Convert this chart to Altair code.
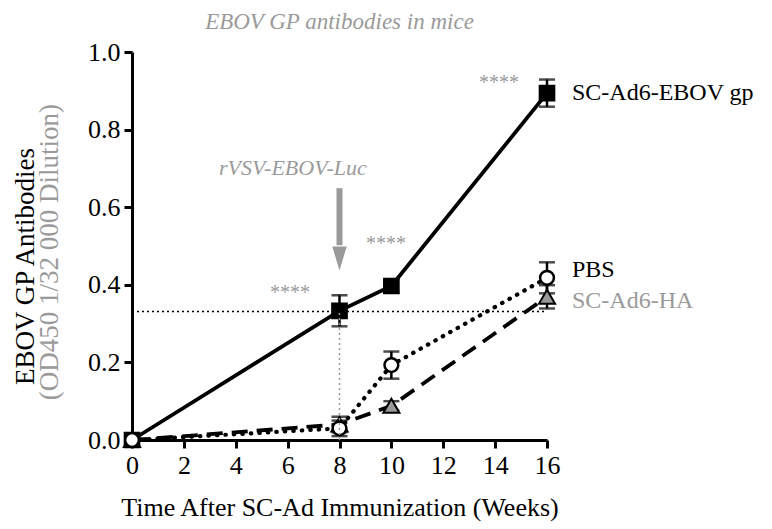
import altair as alt
import pandas as pd

FONT = "Liberation Serif"
GRAY = "#9a9a9a"

weeks = [0, 8, 10, 16]
groups = ["SC-Ad6-EBOV gp", "PBS", "SC-Ad6-HA"]
ebov = [0.0, 0.333, 0.397, 0.894]
ebov_err = [0.0, 0.04, 0.017, 0.035]
pbs = [0.0, 0.03, 0.193, 0.418]
pbs_err = [0.0, 0.02, 0.035, 0.04]
ha = [0.0, 0.04, 0.088, 0.369]
ha_err = [0.0, 0.02, 0.012, 0.03]

x_ticks = [0, 2, 4, 6, 8, 10, 12, 14, 16]
y_ticks = [0.0, 0.2, 0.4, 0.6, 0.8, 1.0]

threshold = 0.331
challenge_week = 8
arrow_top, arrow_head_start, arrow_tip = 0.649, 0.497, 0.438
arrow_label = "rVSV-EBOV-Luc"
arrow_label_x, arrow_label_y = 6.2, 0.70

star_text = "****"
star_x = [6.09, 9.79, 14.15]
star_y = [0.379, 0.505, 0.92]

label_y = [0.894, 0.438, 0.358]
label_colors = ["black", "black", GRAY]

title_text = "EBOV GP antibodies in mice"
x_title = "Time After SC-Ad Immunization (Weeks)"
y_title = "EBOV GP Antibodies"
y_subtitle = "(OD450 1/32 000 Dilution)"

rows = []
for g, vals, errs in zip(groups, [ebov, pbs, ha], [ebov_err, pbs_err, ha_err]):
    for w, v, e in zip(weeks, vals, errs):
        rows.append({"group": g, "week": w, "value": v, "lo": v - e, "hi": v + e})
df = pd.DataFrame(rows)

xscale = alt.Scale(domain=[0, 16], nice=False, zero=False)
yscale = alt.Scale(domain=[0, 1], nice=False, zero=False)
xaxis = alt.Axis(values=x_ticks, title=x_title, format="d", labelFlush=False)
yaxis = alt.Axis(values=y_ticks, title=y_title, format=".1f", labelFlush=False,
                 titleX=-107, titleY=214, titleAngle=270, titleAlign="center",
                 titleBaseline="middle")


def X(field="week"):
    return alt.X(f"{field}:Q", scale=xscale, axis=xaxis)


def Y(field="value"):
    return alt.Y(f"{field}:Q", scale=yscale, axis=yaxis)


hline_df = pd.DataFrame({"week": [0], "week2": [16], "value": [threshold]})
base = alt.Chart(hline_df).mark_rule(
    color="black", strokeWidth=1.5, strokeDash=[2, 3]
).encode(x=X(), x2="week2:Q", y=Y())

line_style = {
    "SC-Ad6-EBOV gp": dict(strokeWidth=3.8),
    "PBS": dict(strokeWidth=4.2, strokeDash=[0.5, 8], strokeCap="round"),
    "SC-Ad6-HA": dict(strokeWidth=3.8, strokeDash=[16, 9]),
}
point_style = {
    "SC-Ad6-EBOV gp": dict(shape="square", fill="black", stroke="black", strokeWidth=1.5, size=230),
    "PBS": dict(shape="circle", fill="white", stroke="black", strokeWidth=2.5, size=190),
    "SC-Ad6-HA": dict(shape="triangle-up", fill="#999999", stroke="black", strokeWidth=2, size=260),
}

lines = []
bars = []
for g in ["SC-Ad6-HA", "PBS", "SC-Ad6-EBOV gp"]:
    sub = df[df.group == g]
    lines.append(alt.Chart(sub).mark_line(color="black", **line_style[g]).encode(x=X(), y=Y()))
for g in groups:
    sub = df[(df.group == g) & (df.week > 0)]
    bars.append(alt.Chart(sub).mark_rule(color="black", strokeWidth=2.5).encode(x=X(), y=Y("lo"), y2="hi:Q"))
    for f in ["lo", "hi"]:
        bars.append(alt.Chart(sub).mark_tick(color="black", orient="horizontal", size=16, thickness=2.5).encode(x=X(), y=Y(f)))

points = []
for g in ["SC-Ad6-EBOV gp", "SC-Ad6-HA", "PBS"]:
    sub = df[df.group == g]
    points.append(alt.Chart(sub).mark_point(filled=False, opacity=1, fillOpacity=1, **point_style[g]).encode(x=X(), y=Y()))

vline_df = pd.DataFrame({"week": [challenge_week], "value": [0.0], "value2": [threshold]})
vline = alt.Chart(vline_df).mark_rule(color=GRAY, strokeWidth=1.5, strokeDash=[2, 3]).encode(
    x=X(), y=Y(), y2="value2:Q")

shaft_df = pd.DataFrame({"week": [challenge_week], "value": [arrow_top], "value2": [arrow_head_start + 0.005]})
shaft = alt.Chart(shaft_df).mark_rule(color=GRAY, strokeWidth=6).encode(x=X(), y=Y(), y2="value2:Q")
head_df = pd.DataFrame({"week": [challenge_week], "value": [(arrow_head_start + arrow_tip) / 2]})
head = alt.Chart(head_df).mark_point(
    shape="M-0.6,-1L0.6,-1L0,1Z", size=576, filled=True, fill=GRAY, opacity=1
).encode(x=X(), y=Y())

arrow_text_df = pd.DataFrame({"week": [arrow_label_x], "value": [arrow_label_y], "t": [arrow_label]})
arrow_text = alt.Chart(arrow_text_df).mark_text(
    font=FONT, fontSize=22, fontStyle="italic", color=GRAY, align="center", baseline="middle"
).encode(x=X(), y=Y(), text="t:N")

stars_df = pd.DataFrame({"week": star_x, "value": star_y, "t": [star_text] * 3})
stars = alt.Chart(stars_df).mark_text(
    font=FONT, fontSize=20, color=GRAY, align="center", baseline="middle"
).encode(x=X(), y=Y(), text="t:N")

labels = []
for g, ly, c in zip(groups, label_y, label_colors):
    ldf = pd.DataFrame({"week": [16], "value": [ly], "t": [g]})
    labels.append(alt.Chart(ldf).mark_text(
        font=FONT, fontSize=24, color=c, align="left", baseline="middle", dx=25
    ).encode(x=X(), y=Y(), text="t:N"))

sub_df = pd.DataFrame({"t": [y_subtitle]})
subtitle = alt.Chart(sub_df).mark_text(
    font=FONT, fontSize=27, color=GRAY, angle=270, align="center", baseline="middle"
).encode(x=alt.value(-82), y=alt.value(200), text="t:N")

chart = alt.layer(
    base, *lines, *bars, *points, vline, shaft, head, arrow_text, stars, *labels, subtitle
).properties(
    width=415, height=388,
    autosize=alt.AutoSizeParams(type="none"),
    padding={"left": 124, "top": 44, "right": 217, "bottom": 81},
    title=alt.TitleParams(title_text, font=FONT, fontSize=23, fontStyle="italic",
                          fontWeight="normal", color=GRAY, anchor="middle", offset=5),
).configure_view(stroke=None).configure_axis(
    domainColor="black", domainWidth=3, tickColor="black", tickWidth=3, tickSize=8,
    labelFont=FONT, labelFontSize=26, labelColor="black", labelPadding=4,
    titleFont=FONT, titleFontSize=27, titleFontWeight="normal", titleColor="black",
    grid=False,
).configure_axisX(titlePadding=16, titleFontSize=26)

chart.save("out.html", embed_options={"renderer": "svg", "actions": False})
